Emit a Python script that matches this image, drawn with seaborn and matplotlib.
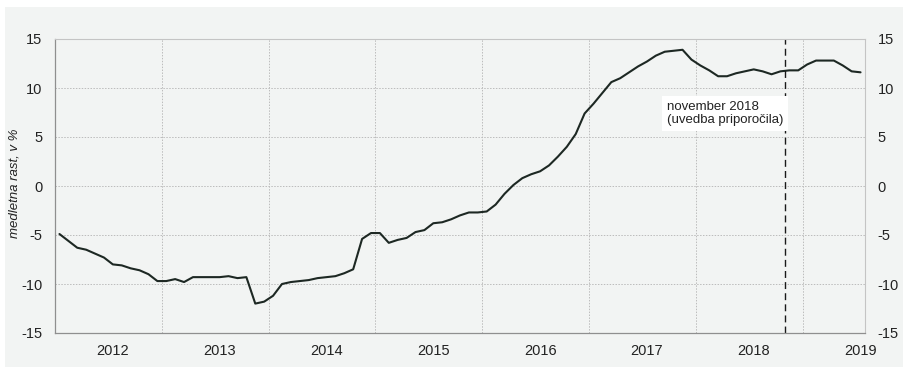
import matplotlib
matplotlib.use("Agg")
import matplotlib.pyplot as plt
from matplotlib.patches import Rectangle
import numpy as np
import pandas as pd
import seaborn as sns

# monthly growth, Jan 2012 - Jul 2019
months = pd.date_range("2012-01-01", periods=91, freq="MS")
growth = [
    -4.9, -5.6, -6.3, -6.5, -6.9, -7.3, -8.0, -8.1, -8.4, -8.6, -9.0, -9.7,
    -9.7, -9.5, -9.8, -9.3, -9.3, -9.3, -9.3, -9.2, -9.4, -9.3, -12.0, -11.8,
    -11.2, -10.0, -9.8, -9.7, -9.6, -9.4, -9.3, -9.2, -8.9, -8.5, -5.4, -4.8,
    -4.8, -5.8, -5.5, -5.3, -4.7, -4.5, -3.8, -3.7, -3.4, -3.0, -2.7, -2.7,
    -2.6, -1.9, -0.8, 0.1, 0.8, 1.2, 1.5, 2.1, 3.0, 4.0, 5.3, 7.4,
    8.4, 9.5, 10.6, 11.0, 11.6, 12.2, 12.7, 13.3, 13.7, 13.8, 13.9, 12.9,
    12.3, 11.8, 11.2, 11.2, 11.5, 11.7, 11.9, 11.7, 11.4, 11.7, 11.8, 11.8,
    12.4, 12.8, 12.8, 12.8, 12.3, 11.7, 11.6,
]
yticks = [-15, -10, -5, 0, 5, 10, 15]
event_month = "2018-11"
event_label = "november 2018\n(uvedba priporočila)"
ylabel = "medletna rast, v %"

panel = "#f2f4f3"
sns.set_style("white", {"axes.facecolor": panel})
plt.rcParams["font.family"] = ["Liberation Sans Narrow", "Liberation Sans", "DejaVu Sans"]

df = pd.DataFrame({"pos": np.arange(len(growth)), "growth": growth})

fig = plt.figure(figsize=(9.09, 3.74), dpi=100, facecolor="white")
fig.patches.append(Rectangle((5 / 909, 7 / 374), 898 / 909, 360 / 374,
                             transform=fig.transFigure, facecolor=panel,
                             edgecolor="none", zorder=-1))
ax = fig.add_axes([55 / 909, 1 - 333 / 374, 810 / 909, 294 / 374])

sns.lineplot(data=df, x="pos", y="growth", ax=ax, color="#1d2823", linewidth=1.5)

ax.set_xlim(-0.5, len(growth) - 0.5)
ax.set_ylim(-15, 15)
ax.set_yticks(yticks)
ax.set_yticklabels([str(t) for t in yticks])

# year labels at July, gridlines at year boundaries
july = [i for i, m in enumerate(months) if m.month == 7]
ax.set_xticks(july)
ax.set_xticklabels([str(months[i].year) for i in july])
bounds = [i - 0.5 for i, m in enumerate(months) if m.month == 1 and i > 0]
for b in bounds:
    ax.axvline(b, color="#bcbcbc", linestyle=(0, (1.5, 1.5)), linewidth=0.7, zorder=0)
for t in yticks[1:-1]:
    ax.axhline(t, color="#bcbcbc", linestyle=(0, (1.5, 1.5)), linewidth=0.7, zorder=0)

ax.tick_params(axis="both", length=0, labelsize=10.5, colors="#222222")
ax.tick_params(axis="y", pad=9, labelright=True)
ax.tick_params(axis="x", pad=8)
ax.set_xlabel("")
ax.set_ylabel(ylabel, fontsize=9.5, style="italic", color="#222222")
ax.yaxis.set_label_coords(-0.043, 0.51)

for side in ["left", "bottom"]:
    ax.spines[side].set_color("#8f8f8f")
    ax.spines[side].set_linewidth(0.9)
for side in ["top", "right"]:
    ax.spines[side].set_color("#c4c4c4")
    ax.spines[side].set_linewidth(0.8)

ev = int(np.where(months == pd.Timestamp(event_month))[0][0])
ax.axvline(ev - 0.5, color="#1a1a1a", linestyle=(0, (5, 3)), linewidth=1.0)
ax.text(ev - 13.8, 8.7, event_label, fontsize=9.5, va="top", ha="left",
        color="#222222", linespacing=1.15,
        bbox=dict(facecolor="white", edgecolor="none", pad=3.5))

fig.savefig("out.png", dpi=100, facecolor=fig.get_facecolor())
